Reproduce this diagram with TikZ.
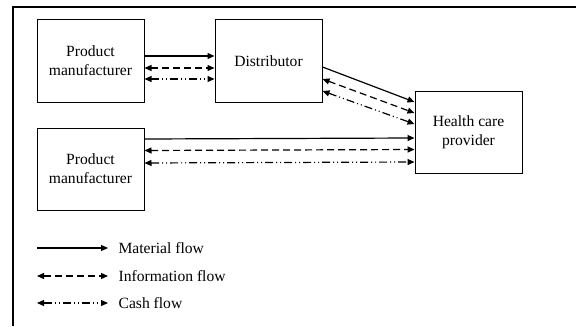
\documentclass[tikz,border=0pt]{standalone}
\usepackage{fontspec}
\setmainfont{Liberation Serif}
\usetikzlibrary{positioning,arrows.meta,calc}
\tikzset{
chain/.style={
    >={Triangle[length=3.5pt,width=3pt]},
    x=0.5pt,
    y=-0.5pt,
    line width=0.6pt,
    font=\fontsize{7.8}{9.4}\selectfont
},
party/.style={
    rectangle,
    draw,
    line width=0.5pt,
    minimum width=53.5pt,
    minimum height=41pt,
    align=center,
    inner sep=1pt
},
material/.style={
    ->
},
information/.style={
    <->,
    dash pattern=on 3.5pt off 2pt
},
cash/.style={
    <->,
    dash pattern=on 4pt off 1.5pt on 0.5pt off 1.5pt on 0.5pt off 1.5pt
},
legend/.style={
    anchor=west,
    inner sep=0pt
}}

\begin{document}
\begin{tikzpicture}[chain]
\useasboundingbox (0,0) rectangle (576,326);
\draw[line width=1pt] (13,326) -- (13,7) -- (576,7);

\node[party]    (pm1)   at (90.5,61)              {Product\\manufacturer};
\node[party]    (dist)  [right=35pt of pm1]       {Distributor};
\node[party]    (pm2)   [below=12.5pt of pm1]     {Product\\manufacturer};
\node[party]    (hcp)   at (468.5,132)            {Health care\\provider};

\draw[material]       ($(pm1.east)+(0,-5)$)   --  ($(dist.west)+(0,-5)$);
\draw[information]    ($(pm1.east)+(0,7)$)    --  ($(dist.west)+(0,7)$);
\draw[cash]           ($(pm1.east)+(0,18)$)   --  ($(dist.west)+(0,18)$);

\draw[material]       ($(dist.east)+(0,6)$)   --  ($(hcp.west)+(0,-30)$);
\draw[information]    ($(dist.east)+(0,18)$)  --  ($(hcp.west)+(0,-19)$);
\draw[cash]           ($(dist.east)+(0,30)$)  --  ($(hcp.west)+(0,-8)$);

\draw[material]       ($(pm2.east)+(0,-30)$)  --  ($(hcp.west)+(0,6)$);
\draw[information]    ($(pm2.east)+(0,-18.5)$) -- ($(hcp.west)+(0,17.5)$);
\draw[cash]           ($(pm2.east)+(0,-6)$)   --  ($(hcp.west)+(0,30)$);

% legend
\coordinate (m1) at (37,248);  \coordinate (m2) at (108,248);
\coordinate (i1) at (37,276);  \coordinate (i2) at (108,276);
\coordinate (c1) at (37,303);  \coordinate (c2) at (108,303);
\node[legend]   (mtext)  at (118,248)  {Material flow};
\node[legend]   (itext)  at (118,276)  {Information flow};
\node[legend]   (ctext)  at (118,303)  {Cash flow};
\draw[material]       (m1) -- (m2);
\draw[information]    (i1) -- (i2);
\draw[cash]           (c1) -- (c2);
\end{tikzpicture}
\end{document}
